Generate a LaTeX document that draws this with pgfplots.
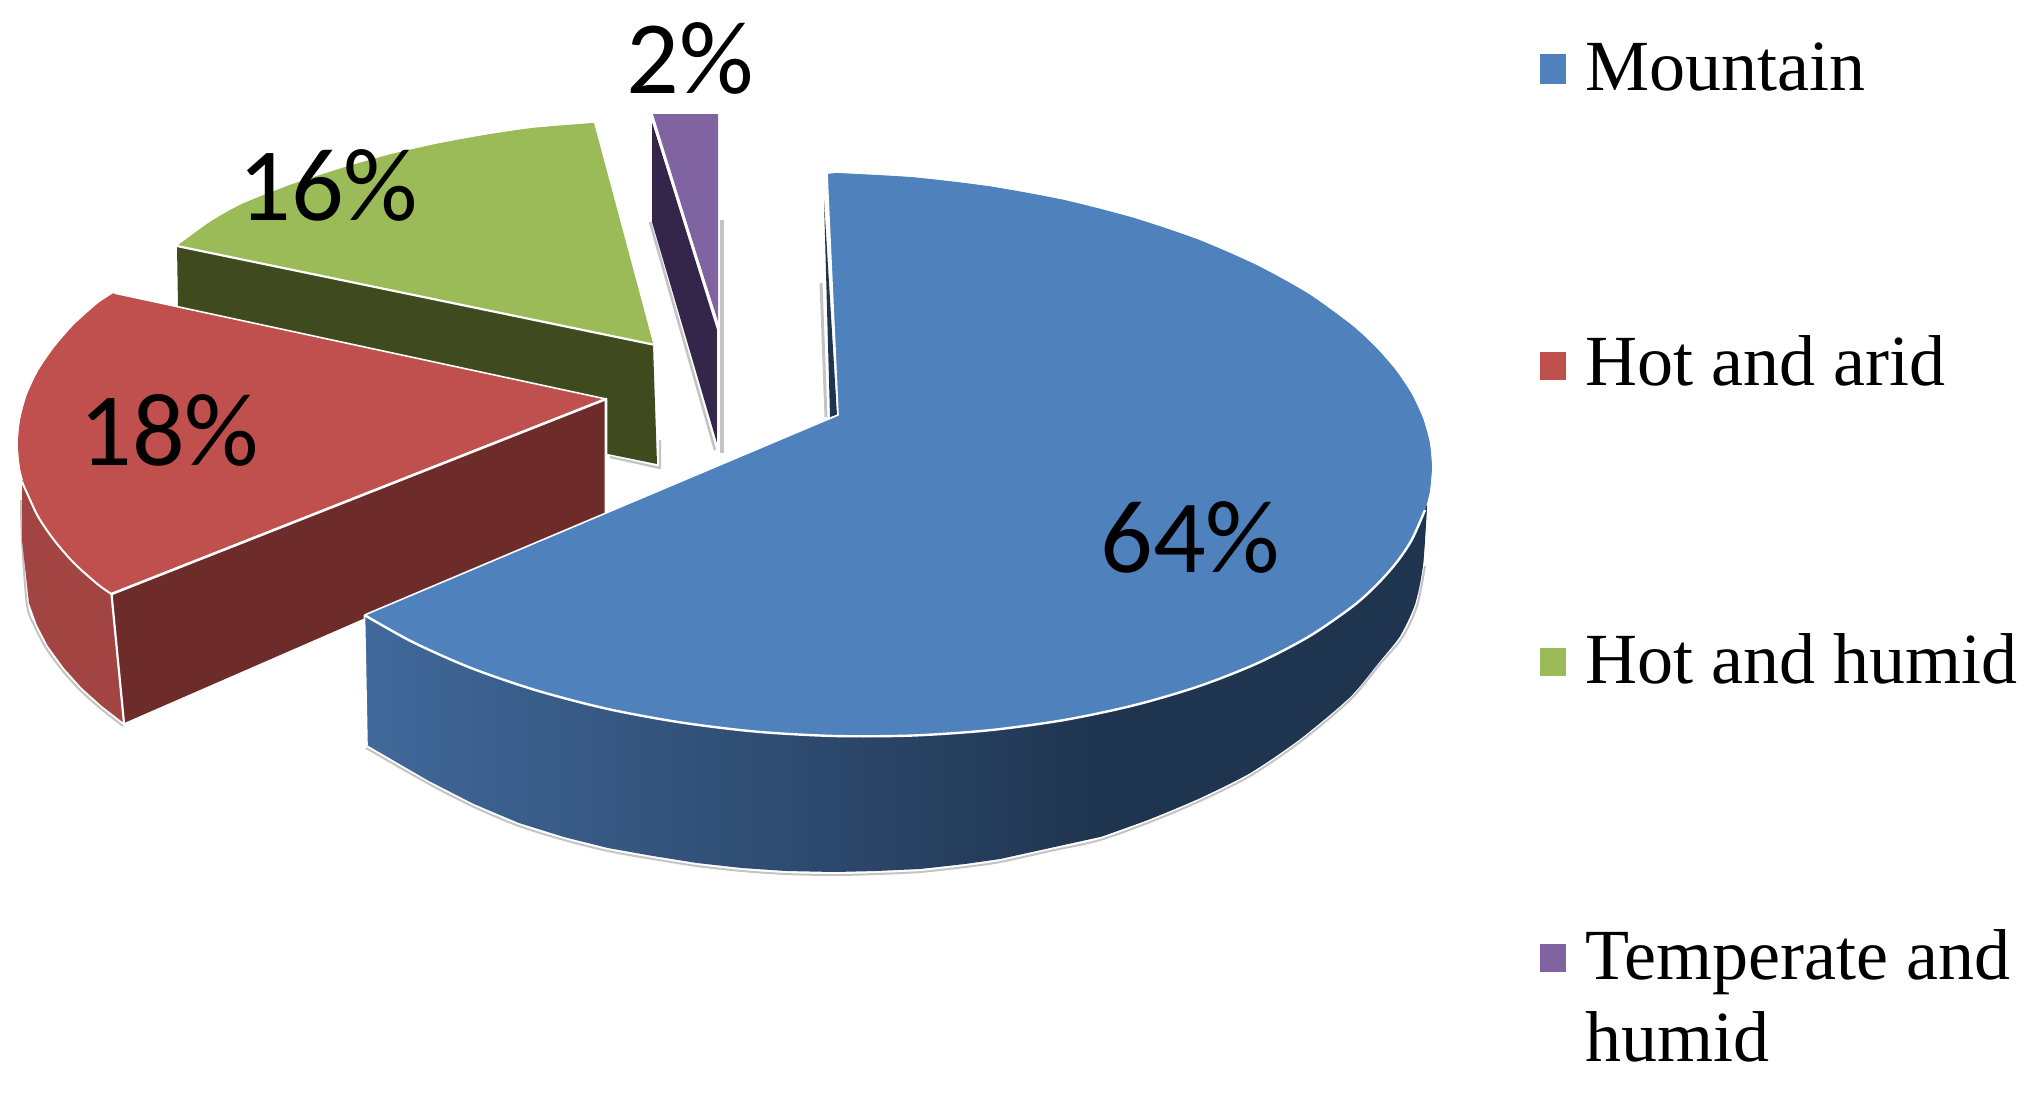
\documentclass[border=0pt]{standalone}
\usepackage{pgfplots}
\pgfplotsset{compat=1.18}
\usepackage{fontspec}
\setmainfont{Liberation Serif}
\newfontfamily\lab{Carlito}
\definecolor{bluetop}{HTML}{4F81BD}
\definecolor{redtop}{HTML}{C0504D}
\definecolor{greentop}{HTML}{9BBB59}
\definecolor{purpletop}{HTML}{8064A2}
\definecolor{bluedark}{HTML}{1F344F}
\definecolor{blueleft}{HTML}{41699B}
\definecolor{reddark}{HTML}{6D2B29}
\definecolor{redside}{HTML}{A24441}
\definecolor{greendark}{HTML}{404A1F}
\definecolor{purpledark}{HTML}{33264A}
\definecolor{shadowgray}{HTML}{C4C4C4}
\pgfdeclarehorizontalshading{rim}{100bp}{color(0bp)=(blueleft); color(25bp)=(blueleft); color(60bp)=(bluedark); color(100bp)=(bluedark)}
\begin{document}
\begin{tikzpicture}
\useasboundingbox (0,0) rectangle (1014pt,546.5pt);
\begin{axis}[
  width=1014pt,height=546.5pt,scale only axis,hide axis,
  xmin=0,xmax=2028,ymin=0,ymax=1093,y dir=reverse,clip=false,
  every axis plot/.append style={line join=round}]

% Shadows
\addplot[shadowgray,line width=1pt,smooth] coordinates {(21,500)(22,540)(27,605)(35,627)(46,648)(62,670)(80,690)(100,708)(123,726)};
\addplot[shadowgray,line width=1.3pt] coordinates {(650,222)(715,450)};
\addplot[shadowgray,line width=1.8pt] coordinates {(722,220)(722,453)};
\addplot[shadowgray,line width=1.5pt] coordinates {(821,283)(826,417)};
\addplot[shadowgray,line width=1.1pt] coordinates {(610,457)(660,468)(660,440)};
\addplot[shadowgray,line width=1pt,smooth] coordinates {(366,748)(429,784)(474,807)(519,826)(564,840)(608,851)(653,859)(697,866)(742,871)(786,874)(835,875)(876,874)(920,872)(965,867)(1000,862)(1050,851)(1100,840)(1150,822)(1200,801)(1250,776)(1300,742)(1350,700)(1380,664)(1402,638)(1417,606)(1425,566)};

% Hot and humid
\addplot[fill=greendark,draw=none] coordinates {(177,246)(653,345)(657,464)(179,366)};
\addplot[fill=greentop,draw=none] coordinates {(653.4,344.6)(177,246)(210,222)(242,204)(290,185)(339,169)(388,155)(436,144)(485,135)(533,128)(594,123)};
\addplot[fill=greentop,draw=none,smooth] coordinates {(177,246)(210,222)(242,204)(290,185)(339,169)(388,155)(436,144)(485,135)(533,128)(594,123)};
\addplot[white,line width=1.1pt] coordinates {(177,246)(653.4,344.6)};

% Hot and arid
\addplot[fill=reddark,draw=none] coordinates {(111.5,594)(606,399)(606,513)(124,723)};
\addplot[fill=redside,draw=none] coordinates {(111.5,594)(98,584.5)(73.9,563)(54,540)(38.3,517)(27,493)(22,480)(22,540)(29,603)(37,625)(48,646)(64,668)(82,688)(102,706)(124,723)};
\addplot[fill=redtop,draw=none] coordinates {(606,399)(114,293)(98,303.5)(73.9,325)(54,348)(38.3,371)(27,395)(20.3,419.5)(18,444)(20.3,468.5)(27,493)(38.3,517)(54,540)(73.9,563)(98,584.5)(111.5,594)};
\addplot[fill=redtop,draw=none,smooth] coordinates {(114,293)(98,303.5)(73.9,325)(54,348)(38.3,371)(27,395)(20.3,419.5)(18,444)(20.3,468.5)(27,493)(38.3,517)(54,540)(73.9,563)(98,584.5)(111.5,594)};
\addplot[white,line width=.8pt] coordinates {(114,293)(606,399)};
\addplot[white,line width=1.3pt] coordinates {(111.5,594)(606,399)(606,513)};
\addplot[white,line width=1.1pt] coordinates {(111.5,594)(124,723)};
\addplot[white,line width=1pt,smooth] coordinates {(22,482)(27,493)(38.3,517)(54,540)(73.9,563)(98,584.5)(111.5,594)};

% Mountain
\addplot[fill=bluedark,draw=none] coordinates {(824,200)(837,415)(830,417)};
\addplot[draw=none,shading=rim] coordinates {(364.5,615)(367,745)(429,781)(474,804)(519,823)(564,837)(608,848)(653,856)(697,863)(742,868)(786,871)(835,872)(876,871)(920,869)(965,864)(1000,859)(1050,848)(1100,837)(1150,819)(1200,798)(1250,773)(1300,739)(1350,697)(1380,661)(1400,636)(1415,604)(1423,565)(1427,505)(1376,585.5)(1133.5,705.4)(835,736)(536.5,690.4)};
\addplot[fill=bluedark,draw=none,smooth] coordinates {(1100,837)(1150,819)(1200,798)(1250,773)(1300,739)(1350,697)(1380,661)(1400,636)(1415,604)(1423,565)(1427,505)};
\addplot[fill=bluetop,draw=none] coordinates {(838,415)(827,174)(835,173)(912.9,177.3)(989.5,186.4)(1063.5,199.9)(1133.5,217.9)(1198.4,239.7)(1257,265.3)(1308.6,293.9)(1352,325.4)(1376,347.6)(1396,370.6)(1411.7,394.2)(1422.9,418.3)(1429.7,442.6)(1432,466.9)(1429.7,491.7)(1422.9,516)(1411.7,539.9)(1396,563.1)(1376,585.5)(1352,606.9)(1308.6,636.7)(1257,663.4)(1198.4,686.4)(1133.5,705.4)(1063.5,720.1)(989.5,730.2)(912.9,735.5)(835,736)(757.1,731.7)(680.5,722.4)(606.5,708.7)(536.5,690.4)(471.6,668.2)(413,642.2)(364.5,615.1)};
\addplot[fill=bluetop,draw=none,smooth] coordinates {(835,173)(912.9,177.3)(989.5,186.4)(1063.5,199.9)(1133.5,217.9)(1198.4,239.7)(1257,265.3)(1308.6,293.9)(1352,325.4)(1376,347.6)(1396,370.6)(1411.7,394.2)(1422.9,418.3)(1429.7,442.6)(1432,466.9)};
\addplot[fill=bluetop,draw=none,smooth] coordinates {(1432,466.9)(1429.7,491.7)(1422.9,516)(1411.7,539.9)(1396,563.1)(1376,585.5)(1352,606.9)(1308.6,636.7)(1257,663.4)(1198.4,686.4)(1133.5,705.4)(1063.5,720.1)(989.5,730.2)(912.9,735.5)(835,736)};
\addplot[fill=bluetop,draw=none,smooth] coordinates {(835,736)(757.1,731.7)(680.5,722.4)(606.5,708.7)(536.5,690.4)(471.6,668.2)(413,642.2)(364.5,615.1)};
\addplot[white,line width=1.2pt,smooth] coordinates {(364.5,615.1)(413,642.2)(471.6,668.2)(536.5,690.4)(606.5,708.7)(680.5,722.4)(757.1,731.7)(835,736)(912.9,735.5)(989.5,730.2)(1063.5,720.1)(1133.5,705.4)(1198.4,686.4)(1257,663.4)(1308.6,636.7)(1352,606.9)(1376,585.5)(1396,563.1)(1411.7,539.9)(1425,510)};
\addplot[white,line width=.8pt] coordinates {(364.5,615)(838,415)(827,174)};
\addplot[white,line width=.8pt] coordinates {(364.5,615)(367,745)};

% Temperate and humid
\addplot[fill=purpledark,draw=none] coordinates {(652,122)(717,330)(717,443)(652,222)};
\addplot[fill=purpletop,draw=none] coordinates {(653,114)(718,114)(718,323)};
\addplot[white,line width=1pt] coordinates {(652,118)(718,325)(718,445)};

% Percent labels
\node[anchor=base west,inner sep=0pt] at (axis cs:1100,572) {\fontsize{52}{52}\selectfont\lab 64\%};
\node[anchor=base west,inner sep=0pt] at (axis cs:79,465) {\fontsize{52}{52}\selectfont\lab 18\%};
\node[anchor=base west,inner sep=0pt] at (axis cs:238,220) {\fontsize{52}{52}\selectfont\lab 16\%};
\node[anchor=base west,inner sep=0pt] at (axis cs:626,93) {\fontsize{52}{52}\selectfont\lab 2\%};

% Legend
\addplot[fill=bluetop,draw=none] coordinates {(1540,54)(1566,54)(1566,84)(1540,84)};
\addplot[fill=redtop,draw=none] coordinates {(1540,352)(1566,352)(1566,380)(1540,380)};
\addplot[fill=greentop,draw=none] coordinates {(1540,648)(1566,648)(1566,676)(1540,676)};
\addplot[fill=purpletop,draw=none] coordinates {(1540,944)(1566,944)(1566,972)(1540,972)};
\node[anchor=base west,inner sep=0pt] at (axis cs:1585,90.6) {\fontsize{36}{36}\selectfont Mountain};
\node[anchor=base west,inner sep=0pt] at (axis cs:1585,385) {\fontsize{36}{36}\selectfont Hot and arid};
\node[anchor=base west,inner sep=0pt] at (axis cs:1585,683) {\fontsize{36}{36}\selectfont Hot and humid};
\node[anchor=base west,inner sep=0pt] at (axis cs:1585,979) {\fontsize{36}{36}\selectfont Temperate and};
\node[anchor=base west,inner sep=0pt] at (axis cs:1585,1061) {\fontsize{36}{36}\selectfont humid};
\end{axis}
\end{tikzpicture}
\end{document}
